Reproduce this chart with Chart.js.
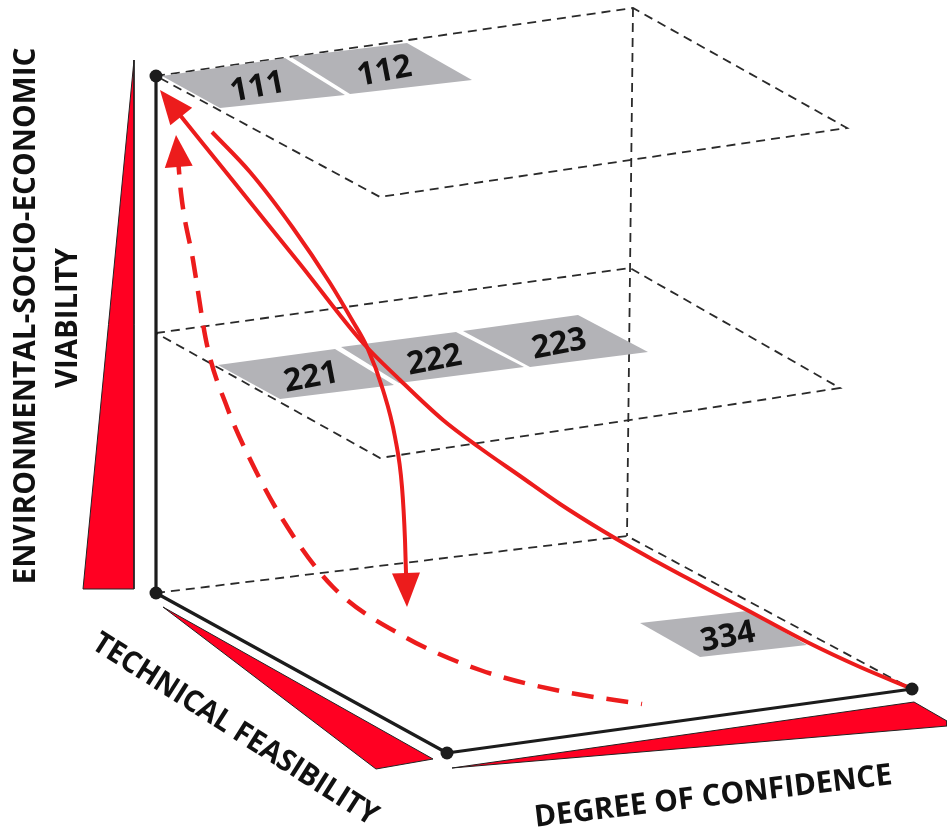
<!DOCTYPE html>
<html><head><meta charset="utf-8">
<script src="https://cdn.jsdelivr.net/npm/chart.js@4.4.1/dist/chart.umd.min.js"></script>
<style>html,body{margin:0;padding:0;background:#fff;overflow:hidden}#wrap{width:947px;height:835px;position:relative}</style>
</head><body><div id="wrap"><canvas id="c"></canvas></div>
<script>
// ---------- data: diagram coordinates in a 947 x 835 frame (x right, y down) ----------
const axisCorners = [[156,76],[156,593],[447,753],[912,689]];
const topPlane = [[156,76],[633,8],[847,128],[380,197],[156,76]];
const midPlane = [[156,333],[630,268],[840,388],[380,458],[156,333]];
const floorBackEdges = [[156,593],[627,536],[912,689]];
const backPillar = [[633,8],[627,536]];
const wedgeViability = [[134,60],[134,589],[83,589],[134,60]];
const wedgeTechnical = [[163,607],[433,759],[376,769],[163,607]];
const wedgeConfidence = [[452,768],[914,702],[947,721],[947,726],[452,768]];
const tileLabels = ['111','112','221','222','223','334'];
const tiles = [
  [[162,76],[285,58],[345,95],[220,108]],
  [[291,57],[407,43],[472,80],[350,94]],
  [[218,365],[335,349],[394,385],[280,399]],
  [[341,347],[456,332],[524,367],[399,383]],
  [[463,331],[578,315],[648,352],[530,367]],
  [[640,623],[747,611],[807,645],[700,657]]
];
// curves listed from start to arrow tip
const pathLong = [[910,688],[860,667],[807,642],[747,610],[700,585],[650,558],[603,531],[560,504],[520,476],[480,448],[443,420],[400,380],[363,343],[300,264],[250,202],[200,140],[160,90]];
const pathShort = [[212,132],[250,172],[293,228],[330,283],[352,320],[367,347],[383,390],[395,437],[402,487],[405,540],[407,607]];
const pathDashed = [[642,704],[560,691],[480,670],[405,637],[333,587],[283,520],[247,453],[227,407],[207,345],[193,260],[181,193],[176,135]];
const titleTexts = ['ENVIRONMENTAL-SOCIO-ECONOMIC','VIABILITY','TECHNICAL FEASIBILITY','DEGREE OF CONFIDENCE'];

// ---------- layout / style ----------
const titleLayout = [
  {x:24, y:316, angle:-90, len:537},
  {x:66, y:318, angle:-90, len:140},
  {x:236, y:728, angle:32.5, len:332},
  {x:713, y:795, angle:-6.8, len:360}
];
const RED_WEDGE = '#ff0022', RED_LINE = '#ec1c1c', GRAY = '#b3b3b7', INK = '#1c1c1c';
const FONT = '"Open Sans", "DejaVu Sans", sans-serif';

function pts(a){ return a.map(p => ({x:p[0], y:p[1]})); }
function arrow(path, len, half){
  const tip = path[path.length-1], prev = path[path.length-2];
  const dx = tip[0]-prev[0], dy = tip[1]-prev[1], d = Math.hypot(dx,dy);
  const ux = dx/d, uy = dy/d;
  const bx = tip[0]-ux*len, by = tip[1]-uy*len;
  const head = [[tip[0],tip[1]],[bx-uy*half, by+ux*half],[bx+uy*half, by-ux*half],[tip[0],tip[1]]];
  let line = path.slice(0,-1).concat([[tip[0]-ux*len*0.55, tip[1]-uy*len*0.55]]);
  // order by x so monotone interpolation follows the curve
  line = line.slice().sort((a,b) => a[0]-b[0]);
  return {head, line};
}
function base(points, extra){
  return Object.assign({data: pts(points), pointRadius:0, pointHoverRadius:0, tension:0, fill:false,
    clip:false, borderWidth:0, borderColor:'transparent', backgroundColor:'transparent', spanGaps:true}, extra);
}

const aLong = arrow(pathLong, 34, 14);
const aShort = arrow(pathShort, 34, 14);
const aDash = arrow(pathDashed, 32, 14);
const CURVE = {cubicInterpolationMode:'monotone', borderColor:RED_LINE, borderWidth:4};

const drawList = [];
drawList.push(base(wedgeViability, {fill:'shape', backgroundColor:RED_WEDGE, borderColor:'#222', borderWidth:1}));
drawList.push(base(wedgeTechnical, {fill:'shape', backgroundColor:RED_WEDGE, borderColor:'#222', borderWidth:1}));
drawList.push(base(wedgeConfidence, {fill:'shape', backgroundColor:RED_WEDGE, borderColor:'#222', borderWidth:1}));
[topPlane, midPlane, floorBackEdges, backPillar].forEach(p =>
  drawList.push(base(p, {borderColor:'#2a2a2a', borderWidth:1.8, borderDash:[9,6]})));
tiles.forEach((t,i) => drawList.push(base(t.concat([t[0]]), {fill:'shape', backgroundColor:GRAY, tileLabel:tileLabels[i], tilePoly:t})));
drawList.push(base(axisCorners, {borderColor:INK, borderWidth:3.2, borderJoinStyle:'round'}));
drawList.push(base(aDash.line, Object.assign({}, CURVE, {borderWidth:4.5, borderDash:[22,13]})));
drawList.push(base(aDash.head, {fill:'shape', backgroundColor:RED_LINE}));
drawList.push(base(aShort.line, CURVE));
drawList.push(base(aShort.head, {fill:'shape', backgroundColor:RED_LINE}));
drawList.push(base(aLong.line, CURVE));
drawList.push(base(aLong.head, {fill:'shape', backgroundColor:RED_LINE}));
drawList.push(base(axisCorners, {showLine:false, pointRadius:6.5, pointBackgroundColor:INK, pointBorderColor:INK, pointBorderWidth:0}));
const n = drawList.length;
drawList.forEach((d,i) => d.order = n - i);

const tileText = {
  id:'tileText',
  afterDatasetDraw(chart, args){
    const ds = chart.data.datasets[args.index];
    if (!ds.tileLabel) return;
    const xs = chart.scales.x, ys = chart.scales.y, ctx = chart.ctx;
    const poly = ds.tilePoly;
    let cx = 0, cy = 0;
    poly.forEach(p => { cx += xs.getPixelForValue(p[0]); cy += ys.getPixelForValue(p[1]); });
    cx /= poly.length; cy /= poly.length;
    ctx.save();
    ctx.translate(cx + 4, cy + 1);
    ctx.rotate(-11 * Math.PI/180);
    ctx.font = 'bold 32px ' + FONT;
    ctx.fillStyle = '#111';
    ctx.textAlign = 'center';
    ctx.textBaseline = 'alphabetic';
    ctx.fillText(ds.tileLabel, 0, 11.5);
    ctx.restore();
  }
};
const titles = {
  id:'titles',
  afterDraw(chart){
    const ctx = chart.ctx, xs = chart.scales.x, ys = chart.scales.y;
    titleTexts.forEach((t,i) => {
      const L = titleLayout[i];
      ctx.save();
      ctx.font = 'bold 30px ' + FONT;
      const w = ctx.measureText(t).width;
      ctx.translate(xs.getPixelForValue(L.x), ys.getPixelForValue(L.y));
      ctx.rotate(L.angle * Math.PI/180);
      ctx.scale(L.len / w, 1);
      ctx.fillStyle = '#111';
      ctx.textAlign = 'center';
      ctx.textBaseline = 'alphabetic';
      ctx.fillText(t, 0, 10.5);
      ctx.restore();
    });
  }
};

function make(){
  new Chart(document.getElementById('c'), {
    type:'line',
    data:{datasets: drawList},
    options:{
      responsive:true, maintainAspectRatio:false, animation:false, events:[],
      layout:{padding:0, autoPadding:false},
      plugins:{legend:{display:false}, tooltip:{enabled:false}, title:{display:false}},
      scales:{
        x:{type:'linear', min:0, max:947, display:false},
        y:{type:'linear', min:0, max:835, reverse:true, display:false}
      }
    },
    plugins:[tileText, titles]
  });
}
if (document.fonts && document.fonts.load) {
  document.fonts.load('bold 30px "Open Sans"').then(make, make);
} else make();
</script></body></html>
